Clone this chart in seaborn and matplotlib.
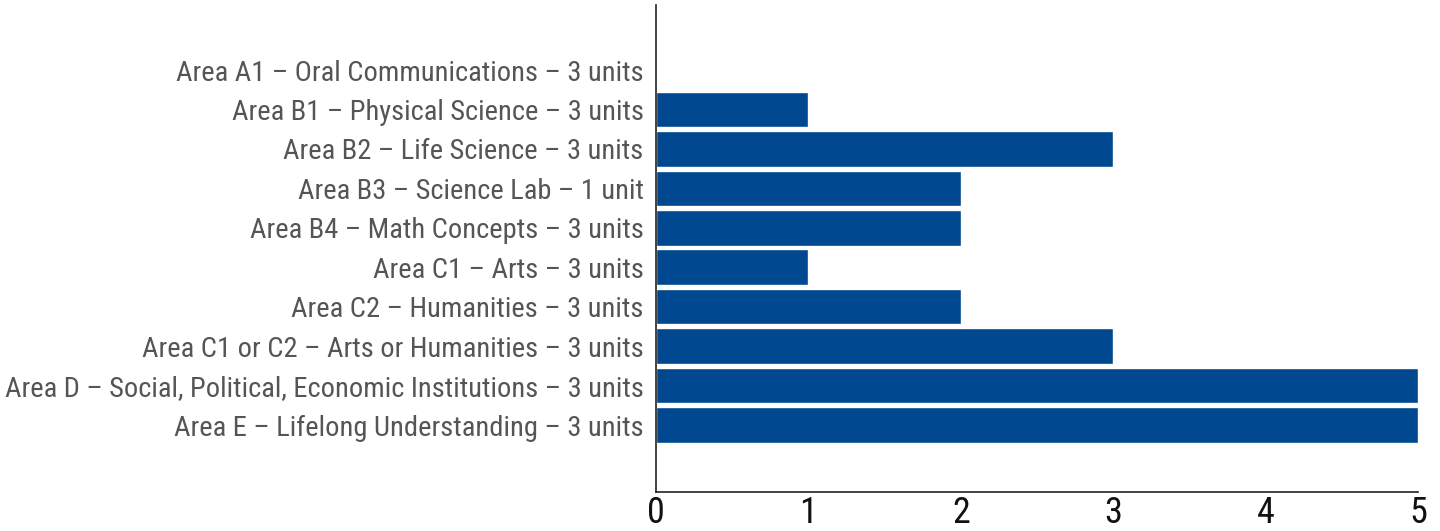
import matplotlib
matplotlib.use("Agg")
import matplotlib.pyplot as plt
import seaborn as sns
import pandas as pd

# chart data
areas = [
    "Area A1 – Oral Communications – 3 units",
    "Area B1 – Physical Science – 3 units",
    "Area B2 – Life Science – 3 units",
    "Area B3 – Science Lab – 1 unit",
    "Area B4 – Math Concepts – 3 units",
    "Area C1 – Arts – 3 units",
    "Area C2 – Humanities – 3 units",
    "Area C1 or C2 – Arts or Humanities – 3 units",
    "Area D – Social, Political, Economic Institutions – 3 units",
    "Area E – Lifelong Understanding – 3 units",
]
counts = [0, 1, 3, 2, 2, 1, 2, 3, 5, 5]
x_ticks = [0, 1, 2, 3, 4, 5]

df = pd.DataFrame({"area": areas, "count": counts})

sns.set_style("white")
plt.rcParams["font.family"] = ["Roboto Condensed", "Liberation Sans Narrow", "DejaVu Sans"]
plt.rcParams["font.stretch"] = "condensed"

fig = plt.figure(figsize=(14.4, 5.31), dpi=100)
ax = fig.add_axes([0.4556, 0.0734, 0.5291, 0.9172])

sns.barplot(data=df, x="count", y="area", color="#00488f", width=0.9,
            saturation=1, ax=ax, orient="h")

ax.set_xlim(0, 5)
ax.set_ylim(10.7, -1.65)
ax.set_xticks(x_ticks)
ax.set_xlabel("")
ax.set_ylabel("")

for s in ["top", "right"]:
    ax.spines[s].set_visible(False)
for s in ["left", "bottom"]:
    ax.spines[s].set_color("#222222")
    ax.spines[s].set_linewidth(1.2)

ax.tick_params(axis="x", direction="in", length=11, width=1.2, color="#222222",
               labelsize=26, labelcolor="#111111", pad=2)
ax.tick_params(axis="y", length=0, labelsize=20.5, labelcolor="#555555", pad=9)

fig.savefig("out.png", dpi=100)
